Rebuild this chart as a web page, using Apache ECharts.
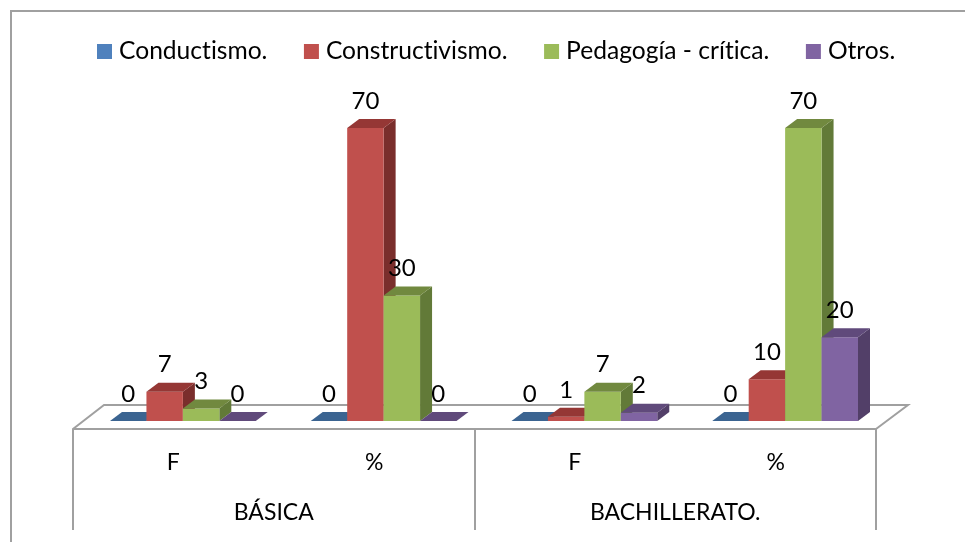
<!DOCTYPE html>
<html>
<head>
<meta charset="utf-8">
<style>html,body{margin:0;padding:0;background:#fff}#c{width:965px;height:542px}</style>
<script src="https://cdn.jsdelivr.net/npm/echarts@6/dist/echarts.min.js"></script>
</head>
<body>
<div id="c"></div>
<script>
const categories = ['F', '%', 'F', '%'];
const groups = ['BÁSICA', 'BACHILLERATO.'];
const seriesNames = ['Conductismo.', 'Constructivismo.', 'Pedagogía - crítica.', 'Otros.'];
const conductismo = [0, 0, 0, 0];
const constructivismo = [7, 70, 1, 10];
const pedagogia = [3, 30, 7, 70];
const otros = [0, 0, 2, 20];
const seriesValues = [conductismo, constructivismo, pedagogia, otros];
const frontColors = ['#4F81BD', '#C0504D', '#9BBB59', '#8064A2'];
const topColors = ['#3B6491', '#953735', '#71893F', '#604A7B'];
const sideColors = ['#315379', '#7A2E2C', '#627A38', '#523F68'];

const FONT = 'Lato';
const FS = 24;
const DX = 12, DY = 9, SHIFT = 9.5, BAR_RATIO = 0.1815;

// draw text without ligatures, as the reference does
const origGetContext = HTMLCanvasElement.prototype.getContext;
HTMLCanvasElement.prototype.getContext = function () {
  const ctx = origGetContext.apply(this, arguments);
  if (ctx && 'textRendering' in ctx) ctx.textRendering = 'optimizeSpeed';
  return ctx;
};

function render3D(idx) {
  return function (params, api) {
    const v = api.value(1);
    const p = api.coord([api.value(0), v]);
    const base = api.coord([api.value(0), 0]);
    const band = api.size([1, 0])[0];
    const w = band * BAR_RATIO;
    const x0 = p[0] + SHIFT + (idx - 2) * w;
    const x1 = x0 + w;
    const yT = p[1], yB = base[1];
    return {
      type: 'group',
      children: [
        { type: 'polygon', shape: { points: [[x1, yT], [x1 + DX, yT - DY], [x1 + DX, yB - DY], [x1, yB]] }, style: { fill: sideColors[idx] } },
        { type: 'rect', shape: { x: x0, y: yT, width: w, height: yB - yT }, style: { fill: frontColors[idx] } },
        { type: 'polygon', shape: { points: [[x0, yT], [x0 + DX, yT - DY], [x1 + DX, yT - DY], [x1, yT]] }, style: { fill: topColors[idx] } },
        { type: 'text', z2: 100, style: { text: String(v), x: x0 + w / 2, y: yT - 27, align: 'center', verticalAlign: 'middle', font: FS + 'px ' + FONT, fill: '#000' } }
      ]
    };
  };
}

const chart = echarts.init(document.getElementById('c'), null, { renderer: 'canvas' });
chart.setOption({
  animation: false,
  backgroundColor: '#fff',
  legend: {
    data: seriesNames,
    left: 92, top: 34,
    icon: 'rect',
    itemWidth: 15, itemHeight: 15, itemGap: 36.5,
    textStyle: { fontFamily: FONT, fontSize: 24.6, color: '#000', padding: [0, 0, 0, 2] }
  },
  grid: { left: 73, width: 803, top: 128, height: 293 },
  xAxis: [
    { type: 'category', data: categories, position: 'bottom',
      axisLine: { show: false }, axisTick: { show: false },
      axisLabel: { margin: 30, fontFamily: FONT, fontSize: 23, color: '#000' } },
    { type: 'category', data: groups, position: 'bottom', offset: 8,
      axisLine: { show: true, lineStyle: { color: '#A0A0A0', width: 2 } },
      axisTick: { show: true, length: 101, lineStyle: { color: '#A0A0A0', width: 2 } },
      axisLabel: { margin: 72, fontFamily: FONT, fontSize: 23, color: '#000' } }
  ],
  yAxis: { type: 'value', min: 0, max: 70, show: false, splitLine: { show: false } },
  graphic: [
    { type: 'polyline', z: 0, shape: { points: [[73, 429], [104, 405], [908, 405], [876, 429]] }, style: { fill: '#fff', stroke: '#A0A0A0', lineWidth: 2 } },
    { type: 'polyline', z: 0, shape: { points: [[11, 542], [11, 11], [965, 11]] }, style: { fill: 'none', stroke: '#A0A0A0', lineWidth: 2 } }
  ],
  series: seriesNames.map((name, i) => ({
    name, type: 'custom', xAxisIndex: 0,
    coordinateSystem: 'cartesian2d',
    itemStyle: { color: frontColors[i] },
    encode: { x: 0, y: 1 },
    data: seriesValues[i].map((v, k) => [k, v]),
    renderItem: render3D(i)
  }))
});
</script>
</body>
</html>
